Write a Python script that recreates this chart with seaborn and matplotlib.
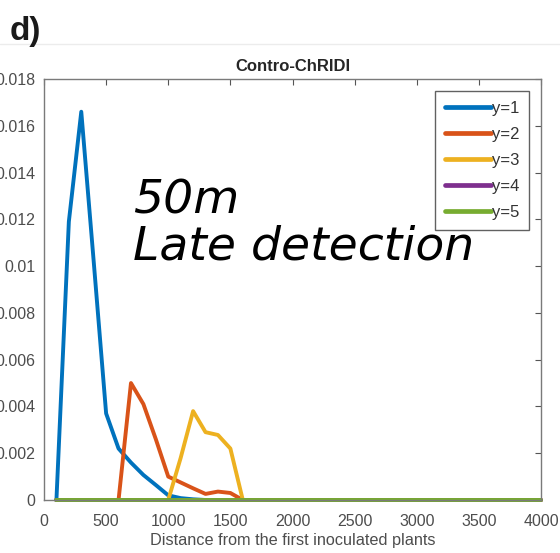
import numpy as np
import pandas as pd
import seaborn as sns
import matplotlib
matplotlib.use("Agg")
import matplotlib.pyplot as plt
from matplotlib.lines import Line2D

# ---------------- data ----------------
distance = list(range(100, 4100, 100))  # 100 .. 4000

y1 = [0.0, 0.0119, 0.0166, 0.0102, 0.0037, 0.0022, 0.0016, 0.00107, 0.00064, 0.0002,
      0.00008, 0.00003] + [0.0] * 28
y2 = [0.0, 0.0, 0.0, 0.0, 0.0, 0.0, 0.0050, 0.0041, 0.0026, 0.0010,
      0.00075, 0.0005, 0.00026, 0.00036, 0.0003, 0.0] + [0.0] * 24
y3 = [0.0] * 10 + [0.0018, 0.0038, 0.0029, 0.00278, 0.0022, 0.0] + [0.0] * 24
y4 = [0.0] * 40
y5 = [0.0] * 40

series_labels = ["y=1", "y=2", "y=3", "y=4", "y=5"]
series_values = [y1, y2, y3, y4, y5]
colors = ["#0072BD", "#D95319", "#EDB120", "#7E2F8E", "#77AC30"]

xticks = [0, 500, 1000, 1500, 2000, 2500, 3000, 3500, 4000]
yticks = [0, 0.002, 0.004, 0.006, 0.008, 0.01, 0.012, 0.014, 0.016, 0.018]
ytick_labels = ["0", "0.002", "0.004", "0.006", "0.008", "0.01", "0.012", "0.014", "0.016", "0.018"]

title = "Contro-ChRIDI"
xlabel = "Distance from the first inoculated plants"
panel_label = "d)"
annotation = "50m\nLate detection"

# ---------------- plot ----------------
sns.set_style("white")
plt.rcParams["font.family"] = ["Liberation Sans", "DejaVu Sans"]

W, H = 560, 553
fig = plt.figure(figsize=(W / 100, H / 100), dpi=100)
ax = fig.add_axes([44 / W, 1 - 500 / H, (541 - 44) / W, (500 - 79) / H])

df = pd.DataFrame({
    "distance": np.tile(distance, len(series_labels)),
    "value": np.concatenate(series_values),
    "series": np.repeat(series_labels, len(distance)),
})
for lab, col in zip(series_labels, colors):
    sub = df[df["series"] == lab]
    sns.lineplot(data=sub, x="distance", y="value", color=col, linewidth=2.8,
                 ax=ax, legend=False, clip_on=False)

ax.set_xlim(0, 4000)
ax.set_ylim(0, 0.018)
ax.set_xticks(xticks)
ax.set_xticklabels([str(t) for t in xticks])
ax.set_yticks(yticks)
ax.set_yticklabels(ytick_labels)

gray = "#4d4d4d"
for s in ax.spines.values():
    s.set_visible(True)
    s.set_color("#7a7a7a")
    s.set_linewidth(1.0)
ax.tick_params(direction="in", length=4, width=0.8, color="#555555",
               labelsize=11.5, labelcolor=gray, top=True, right=True,
               labeltop=False, labelright=False)
ax.tick_params(axis="x", pad=10)
ax.tick_params(axis="y", pad=6)
ax.set_xlabel(xlabel, fontsize=11.7, color=gray, labelpad=3)
ax.set_ylabel("")
ax.set_title(title, fontsize=12, fontweight="bold", color="#262626", pad=6)

handles = [Line2D([0], [0], color=c, lw=3.4) for c in colors]
leg = ax.legend(handles, series_labels, loc="upper right",
                bbox_to_anchor=((529 - 44) / (541 - 44), 1 - (91 - 79) / (500 - 79)),
                frameon=True, fancybox=False, fontsize=12, handlelength=2.75,
                handletextpad=0.05, labelspacing=0.66, borderpad=0.6,
                borderaxespad=0.0)
leg.get_frame().set_edgecolor("#3a3a3a")
leg.get_frame().set_linewidth(1.0)
for t in leg.get_texts():
    t.set_color("#333333")

fig.text(133 / W, 1 - 260 / H, annotation, fontsize=34, style="italic",
         family=["DejaVu Sans"], color="black",
         va="baseline", ha="left", linespacing=1.05)
fig.text(10 / W, 1 - 40 / H, panel_label, fontsize=24, fontweight="bold",
         color="#1a1a1a", va="baseline", ha="left")
fig.add_artist(Line2D([0, 1], [1 - 44 / H, 1 - 44 / H], transform=fig.transFigure,
                      color="#ececec", lw=1))

fig.savefig("out.png", dpi=100)
